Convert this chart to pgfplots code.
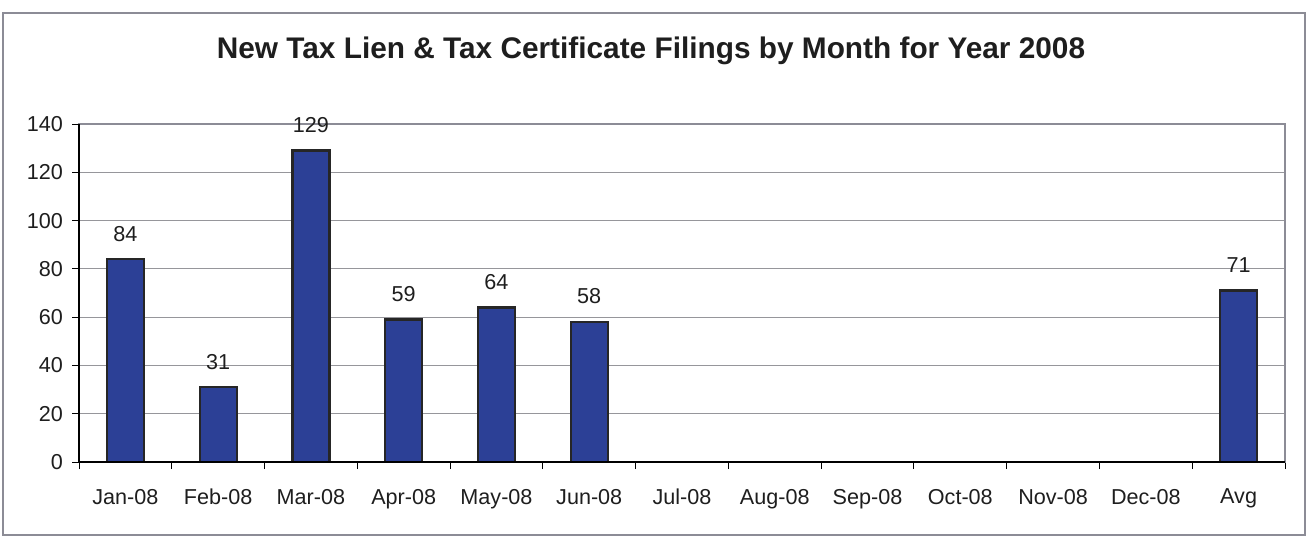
\documentclass[border=0pt]{standalone}
\usepackage{fontspec}
\setmainfont{Liberation Sans}
\usepackage{pgfplots}
\pgfplotsset{compat=1.18}
\definecolor{barblue}{RGB}{44,64,150}
\definecolor{framegray}{RGB}{140,140,150}
\definecolor{gridgray}{RGB}{150,150,155}
\definecolor{txt}{RGB}{30,30,30}
\begin{document}
\begin{tikzpicture}
\useasboundingbox (0pt,0pt) rectangle (656pt,268.5pt);
\draw[framegray, line width=0.9pt] (1.5pt,1pt) rectangle (652.5pt,262pt);
\node[font=\fontsize{14.9}{17}\selectfont\bfseries, text=txt] at (325.5pt,243pt) {New Tax Lien \& Tax Certificate Filings by Month for Year 2008};
\begin{axis}[
  at={(39.5pt,37.5pt)}, anchor=south west,
  scale only axis, width=603pt, height=169pt,
  ymin=0, ymax=140, ytick={0,20,...,140},
  xmin=-0.5, xmax=12.5,
  xtick={0,...,12},
  xticklabels={Jan-08,Feb-08,Mar-08,Apr-08,May-08,Jun-08,Jul-08,Aug-08,Sep-08,Oct-08,Nov-08,Dec-08,Avg},
  minor xtick={-0.5,0.5,...,12.5},
  major x tick style={draw=none},
  tick align=outside,
  major tick length=3.5pt, minor tick length=3.5pt,
  tick style={black, line width=0.5pt},
  ymajorgrids, grid style={gridgray, line width=0.4pt},
  axis line style={framegray, line width=1pt},
  xtick pos=bottom, ytick pos=left,
  ticklabel style={font=\fontsize{10.8}{12}\selectfont, text=txt},
  xticklabel style={yshift=-6.5pt},
  yticklabel style={xshift=-1pt},
  /pgf/number format/assume math mode=true,
  ybar, bar width=18.5pt,
  nodes near coords,
  every node near coord/.append style={font=\fontsize{10.8}{12}\selectfont, text=txt, yshift=5pt},
  clip=false,
  after end axis/.code={\draw[black, line width=0.8pt] (rel axis cs:0,1) -- (rel axis cs:0,0) -- (rel axis cs:1,0);},
]
\addplot[fill=barblue, draw=black!85, line width=1.1pt] coordinates {
(0,84) (1,31) (2,129) (3,59) (4,64) (5,58) (12,71)
};
\end{axis}
\end{tikzpicture}
\end{document}
